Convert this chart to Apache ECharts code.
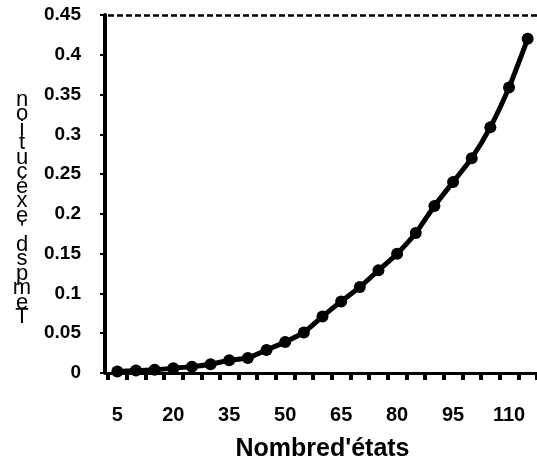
<!DOCTYPE html>
<html>
<head>
<meta charset="utf-8">
<script src="https://cdn.jsdelivr.net/npm/echarts@6/dist/echarts.min.js"></script>
<style>
  html, body { margin: 0; padding: 0; background: #fff; }
  #chart { width: 537px; height: 472px; }
</style>
</head>
<body>
<div id="chart"></div>
<script>
// Number of states on the x axis
const etats = [5, 10, 15, 20, 25, 30, 35, 40, 45, 50, 55, 60, 65, 70, 75, 80, 85, 90, 95, 100, 105, 110, 115];
// Execution time for each number of states
const temps = [0.002, 0.003, 0.004, 0.006, 0.008, 0.011, 0.016, 0.019, 0.029, 0.039, 0.051, 0.071,
               0.09, 0.108, 0.129, 0.15, 0.176, 0.21, 0.24, 0.27, 0.309, 0.359, 0.42];
// Value-axis tick labels
const yTicks = ['0', '0.05', '0.1', '0.15', '0.2', '0.25', '0.3', '0.35', '0.4', '0.45'];

// Vertical axis title, one upright character per line, read bottom to top;
// two empty leading lines push the column down a little
const yTitle = '\n\n' + "Tempsd'exécution".split('').reverse().join('\n');

const chart = echarts.init(document.getElementById('chart'), null, { renderer: 'canvas' });
const FONT = 'Liberation Sans, Arial, sans-serif';
const NARROW = 'Liberation Sans Narrow, Liberation Sans, Arial, sans-serif';

chart.setOption({
  animation: false,
  backgroundColor: '#fff',
  grid: { left: 108, right: -6, top: 15, bottom: 99, containLabel: false },
  xAxis: {
    type: 'category',
    data: etats.map(String),
    boundaryGap: true,
    axisLine: { lineStyle: { color: '#000', width: 3 } },
    axisTick: { show: true, interval: 0, length: 7, lineStyle: { color: '#000', width: 4 } },
    axisLabel: { interval: 2, margin: 32, color: '#000', fontFamily: FONT, fontWeight: 'bold', fontSize: 20 },
    name: "Nombred'états",
    nameLocation: 'middle',
    nameGap: 64,
    nameTextStyle: { color: '#000', fontFamily: FONT, fontWeight: 'bold', fontSize: 25 },
    splitLine: { show: false }
  },
  yAxis: {
    type: 'value',
    min: 0,
    max: 0.45,
    interval: 0.05,
    offset: 3,
    axisLine: { show: true, lineStyle: { color: '#000', width: 4 } },
    axisTick: { show: true, length: 5, lineStyle: { color: '#000', width: 2 } },
    axisLabel: {
      margin: 24, color: '#000', fontFamily: FONT, fontWeight: 'bold', fontSize: 19,
      formatter: (v) => yTicks[Math.round(v / 0.05)]
    },
    splitLine: { show: false },
    name: yTitle,
    nameLocation: 'middle',
    nameRotate: 0,
    nameGap: 83,
    nameTextStyle: {
      color: '#000', fontFamily: NARROW,
      fontSize: 22, lineHeight: 14.5, align: 'center', verticalAlign: 'middle'
    }
  },
  series: [{
    type: 'line',
    data: temps,
    smooth: 0.2,
    symbol: 'circle',
    symbolSize: 12,
    showSymbol: true,
    lineStyle: { color: '#000', width: 5 },
    itemStyle: { color: '#000' },
    emphasis: { disabled: true },
    markLine: {
      silent: true,
      symbol: 'none',
      label: { show: false },
      lineStyle: { color: '#000', width: 2.5, type: [6, 3] },
      data: [{ yAxis: 0.45 }]
    }
  }]
});
</script>
</body>
</html>
